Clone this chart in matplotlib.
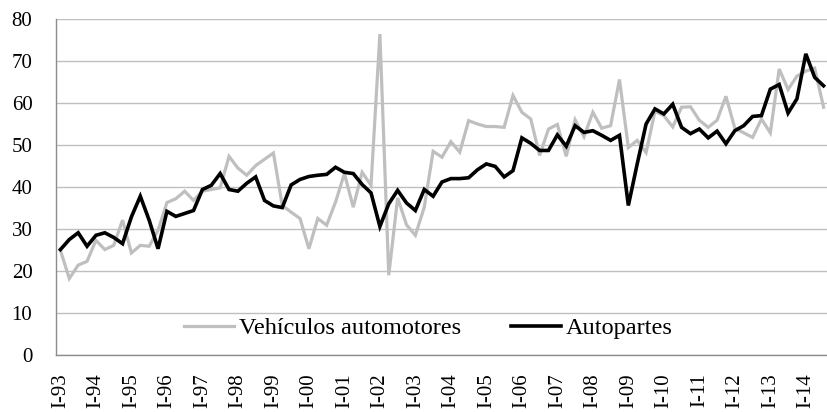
import matplotlib
matplotlib.use("Agg")
import matplotlib.pyplot as plt
import numpy as np

years = [f"{y % 100:02d}" for y in range(1993, 2015)]
tick_labels = [f"I-{y}" for y in years]

autopartes = [25.1, 27.5, 29.1, 25.9, 28.5, 29.1, 28.0, 26.5, 32.9, 37.8,
              32.1, 25.3, 34.2, 33.0, 33.7, 34.4, 39.4, 40.4, 43.2, 39.4,
              39.0, 40.9, 42.4, 36.8, 35.5, 35.1, 40.5, 41.8, 42.5, 42.8,
              43.0, 44.7, 43.5, 43.2, 40.6, 38.6, 30.6, 36.0, 39.2, 36.2,
              34.4, 39.4, 37.8, 41.2, 42.0, 42.0, 42.2, 44.1, 45.5, 44.9,
              42.4, 43.9, 51.7, 50.4, 48.7, 48.7, 52.4, 49.7, 54.6, 53.0,
              53.4, 52.3, 51.1, 52.3, 35.6, 45.5, 55.0, 58.6, 57.4, 59.7,
              54.2, 52.7, 53.8, 51.7, 53.3, 50.3, 53.4, 54.6, 56.8, 57.0,
              63.3, 64.4, 57.6, 61.0, 71.7, 66.1, 64.1]

vehiculos = [24.9, 18.2, 21.4, 22.3, 27.3, 25.1, 26.1, 32.1, 24.3, 26.1,
             25.9, 29.7, 36.3, 37.2, 39.0, 36.8, 39.0, 39.4, 39.8, 47.3,
             44.5, 42.8, 45.1, 46.6, 48.1, 35.6, 34.0, 32.5, 25.3, 32.5,
             30.9, 36.4, 43.2, 35.2, 43.5, 40.4, 76.4, 19.0, 37.4, 31.0,
             28.5, 35.2, 48.5, 47.1, 50.8, 48.3, 55.8, 55.0, 54.4, 54.4,
             54.2, 61.8, 57.8, 56.2, 47.5, 53.8, 54.9, 47.3, 56.0, 52.0,
             57.8, 54.0, 54.6, 65.6, 49.4, 51.1, 48.2, 58.0, 57.0, 54.3,
             59.0, 59.1, 55.9, 54.2, 55.9, 61.6, 54.0, 52.9, 51.8, 56.2,
             52.9, 68.1, 63.2, 66.4, 67.6, 68.3, 59.0]

plt.rcParams['font.family'] = ['Liberation Serif', 'DejaVu Serif']

fig = plt.figure(figsize=(8.28, 4.12), dpi=100)
ax = fig.add_axes([56/828, 1 - 355/412, 1 - 56/828, (355 - 19)/412])

x = np.arange(len(autopartes))
ax.plot(x, vehiculos, color='#bfbfbf', lw=2.3, solid_joinstyle='miter',
        label='Vehículos automotores')
ax.plot(x, autopartes, color='black', lw=2.6, solid_joinstyle='miter',
        label='Autopartes')

ax.set_ylim(0, 80)
ax.set_xlim(-0.5, len(autopartes) - 0.5)
ax.set_yticks(np.arange(0, 81, 10))
ax.yaxis.grid(True, color='#bfbfbf', lw=1.0)
ax.set_axisbelow(True)
xt = np.arange(0, len(autopartes), 4)
ax.set_xticks(xt)
ax.set_xticklabels(tick_labels[:len(xt)], rotation=90, fontsize=15)
ax.tick_params(axis='both', length=0, colors='black')
ax.tick_params(axis='y', pad=17, labelsize=15)
ax.tick_params(axis='x', pad=13)
for s in ['top', 'right']:
    ax.spines[s].set_visible(False)
for s in ['left', 'bottom']:
    ax.spines[s].set_color('#8c8c8c')
    ax.spines[s].set_linewidth(1.0)

leg = ax.legend(loc='center', bbox_to_anchor=(0.4825, 0.080), ncol=2,
                frameon=False, fontsize=17.5, handlelength=2.06,
                handletextpad=0.2, columnspacing=2.06, borderpad=0,
                borderaxespad=0)

fig.savefig('out.png', dpi=100)
